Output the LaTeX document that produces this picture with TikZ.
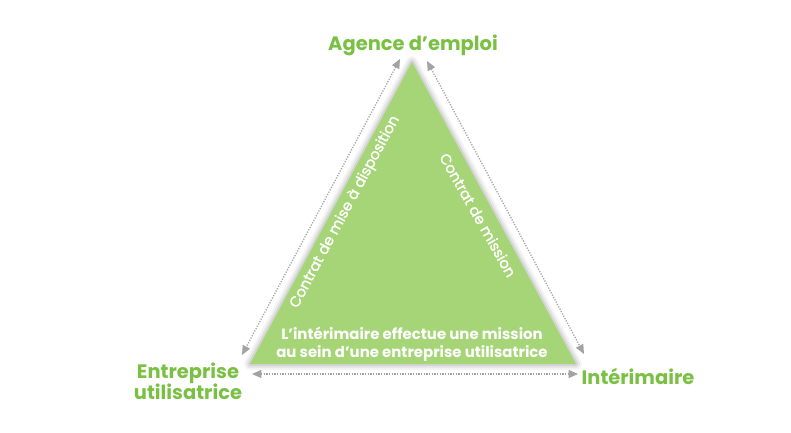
\documentclass[tikz,border=0pt]{standalone}
\usepackage{fontspec}
\setmainfont{Poppins}
\newfontfamily\edgefont{Poppins}[FakeBold=1.3]
\usetikzlibrary{arrows.meta}
\definecolor{trigreen}{HTML}{A6D577}
\definecolor{labgreen}{HTML}{7AC143}
\definecolor{arrgray}{HTML}{A3A3A3}
\tikzset{
  lab/.style={text=labgreen, font=\bfseries\fontsize{14.6}{16.5}\selectfont, align=center, inner sep=0pt},
  inner/.style={text=white, font=\bfseries\fontsize{11.2}{13.5}\selectfont, align=center, inner sep=0pt},
  edgetext/.style={text=white, font=\edgefont\fontsize{11}{13}\selectfont, inner sep=0pt},
  dotarrow/.style={arrgray, line width=1pt, dash pattern=on 0.9pt off 1.1pt, {Triangle[length=7pt,width=6pt]}-{Triangle[length=7pt,width=6pt]}},
  halo/.style={line join=round, draw=gray}
}
\begin{document}
\begin{tikzpicture}[x=0.75pt,y=-0.75pt]
\useasboundingbox (0,0) rectangle (791,432);
% triangle corners
\coordinate (T) at (412,62);
\coordinate (L) at (250,364);
\coordinate (R) at (576,364);
% halo
\draw[halo, draw opacity=0.08, line width=9pt] (T) -- (L) -- (R) -- cycle;
\draw[halo, draw opacity=0.12, line width=6pt] (T) -- (L) -- (R) -- cycle;
\draw[halo, draw opacity=0.18, line width=3pt] (T) -- (L) -- (R) -- cycle;
\fill[trigreen] (T) -- (L) -- (R) -- cycle;
% arrow end points
\coordinate (a1) at (400,59);
\coordinate (a2) at (242,355);
\coordinate (b1) at (427,61);
\coordinate (b2) at (584,354);
\coordinate (c1) at (252,374);
\coordinate (c2) at (578,374);
\draw[dotarrow] (a1) -- (a2);
\draw[dotarrow] (b1) -- (b2);
\draw[dotarrow] (c1) -- (c2);
% labels
\node[lab] (agence) at (413,45) {Agence d’emploi};
\node[lab] (entreprise) at (188,381) {Entreprise\\[-1pt]utilisatrice};
\node[lab] (interim) at (638,376) {Intérimaire};
\node[inner] (mission) at (412,344) {L’intérimaire effectue une mission\\au sein d’une entreprise utilisatrice};
\node[edgetext, rotate=61.8] (cmd) at (345,212) {Contrat de mise à disposition};
\node[edgetext, rotate=-60.5] (cm) at (478,215) {Contrat de mission};
\end{tikzpicture}
\end{document}
